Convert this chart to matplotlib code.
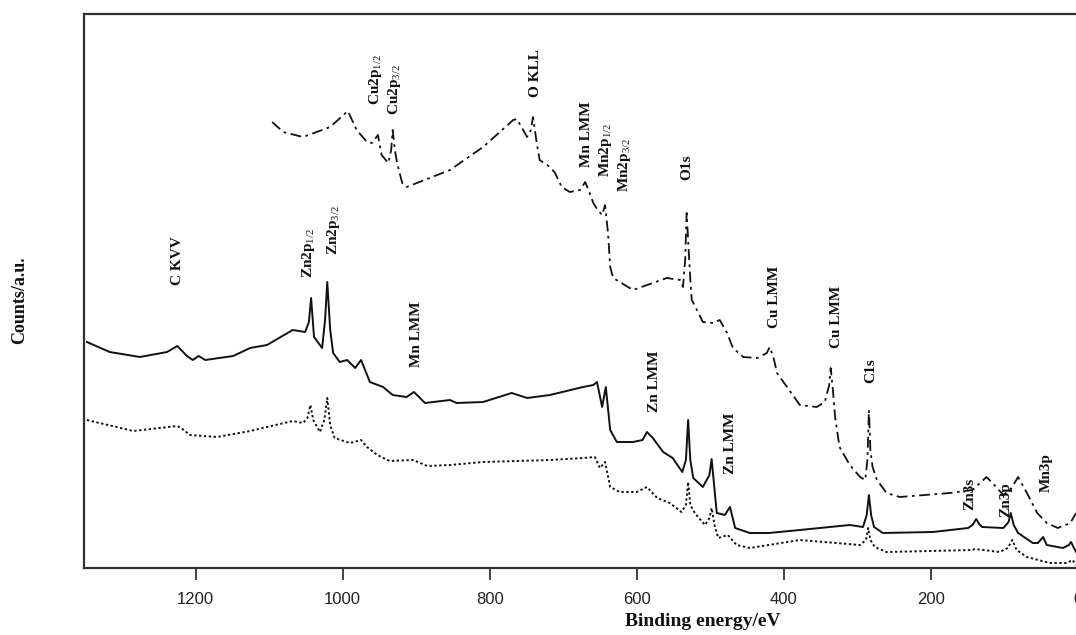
import numpy as np
import matplotlib
matplotlib.use("Agg")
import matplotlib.pyplot as plt

# binding energy (eV) / intensity (a.u.)
solid_e = [1348, 1317, 1276, 1239, 1225, 1212, 1204, 1196, 1187, 1149, 1126, 1103, 1068, 1051,
           1046, 1043, 1039, 1028, 1024, 1021, 1017, 1013, 1004, 994, 983, 975, 963, 945, 932,
           913, 903, 888, 854, 845, 809, 770, 749, 718, 673, 659, 654, 647, 642, 636, 627, 605,
           592, 586, 578, 564, 551, 538, 533, 530, 527, 523, 510, 501, 498, 494, 491, 480, 473,
           466, 446, 420, 378, 310, 292, 287, 284, 281, 277, 265, 197, 149, 143, 138, 134, 130,
           101, 94, 91, 87, 81, 61, 54, 47, 42, 20, 12, 9, 5, 2]
solid_i = [226, 216, 211, 216, 222, 212, 208, 212, 208, 212, 220, 223, 238, 236,
           246, 270, 231, 220, 248, 286, 238, 215, 206, 208, 200, 208, 186, 181, 173,
           171, 176, 165, 168, 165, 166, 175, 170, 173, 181, 183, 186, 161, 181, 138, 126, 126,
           128, 136, 130, 116, 110, 96, 108, 148, 108, 90, 81, 93, 109, 78, 55, 53, 61,
           40, 35, 35, 38, 43, 41, 53, 73, 53, 41, 35, 36, 40, 43, 49, 44, 41,
           40, 46, 55, 43, 35, 25, 25, 31, 23, 20, 23, 26, 20, 16]

dot_e = [1348, 1285, 1225, 1218, 1208, 1171, 1126, 1068, 1054, 1048, 1044, 1040, 1031, 1025,
         1021, 1017, 1011, 990, 975, 967, 953, 936, 904, 885, 854, 809, 763, 718, 673, 657,
         650, 643, 636, 623, 600, 586, 572, 555, 539, 533, 530, 527, 521, 507, 501, 498, 494,
         489, 476, 464, 446, 378, 296, 288, 285, 282, 276, 260, 143, 140, 106, 95, 89, 83,
         69, 38, 15, 7, 2]
dot_i = [148, 137, 142, 139, 133, 131, 137, 147, 145, 150, 163, 148, 136, 148,
         170, 143, 130, 125, 128, 121, 113, 107, 108, 102, 103, 106, 107, 108, 110, 111,
         100, 106, 81, 76, 76, 81, 70, 65, 56, 63, 86, 63, 55, 43, 50, 60, 43,
         30, 33, 23, 20, 28, 23, 28, 40, 28, 21, 16, 18, 19, 16, 20, 28, 18,
         11, 5, 5, 8, 3]

dash_e = [1096, 1081, 1054, 1017, 993, 981, 967, 960, 952, 947, 938, 934, 932, 929, 926, 919,
          913, 854, 809, 768, 763, 749, 744, 741, 736, 732, 718, 711, 702, 691, 677, 670, 664,
          659, 653, 647, 643, 639, 636, 632, 605, 559, 541, 537, 534, 532, 530, 527, 525, 518,
          510, 496, 487, 477, 469, 455, 436, 423, 419, 414, 409, 378, 355, 344, 338, 336, 333,
          330, 324, 310, 296, 289, 286, 284, 282, 279, 273, 260, 242, 174, 143, 124, 116, 101,
          90, 81, 69, 55, 42, 27, 10, 2]
dash_i = [446, 436, 431, 441, 457, 438, 426, 425, 433, 413, 405, 418, 438, 418, 405, 385,
          381, 398, 421, 448, 449, 431, 438, 451, 425, 408, 401, 395, 381, 376, 378, 386, 375,
          365, 358, 353, 363, 335, 301, 290, 278, 290, 288, 281, 308, 355, 328, 288, 268, 258,
          246, 245, 248, 235, 220, 211, 210, 215, 221, 211, 195, 163, 161, 166, 183, 200, 178,
          151, 121, 103, 91, 88, 108, 158, 118, 101, 88, 75, 71, 75, 78, 91, 85, 73,
          80, 91, 75, 55, 45, 40, 45, 55]

# peak labels: text, energy, baseline height
peak_text = ["C KVV", r"Zn2p$_{1/2}$", r"Zn2p$_{3/2}$", r"Cu2p$_{1/2}$", r"Cu2p$_{3/2}$",
             "O KLL", "Mn LMM", r"Mn2p$_{1/2}$", r"Mn2p$_{3/2}$", "O1s", "Mn LMM",
             "Zn LMM", "Zn LMM", "Cu LMM", "Cu LMM", "C1s", "Zn3s", "Zn3p", "Mn3p"]
peak_e = [1225, 1047, 1013, 955, 929, 737, 668, 642, 616, 532, 899,
          576, 473, 412, 328, 281, 147, 98, 42]
peak_y = [283, 290, 313, 463, 453, 471, 401, 391, 376, 388, 201,
          156, 94, 240, 220, 185, 58, 51, 76]

xticks = [1200, 1000, 800, 600, 400, 200, 0]

plt.rcParams["mathtext.fontset"] = "custom"
plt.rcParams["mathtext.rm"] = "Liberation Serif"
plt.rcParams["mathtext.it"] = "Liberation Serif"
plt.rcParams["mathtext.bf"] = "Liberation Serif:bold"

W, H = 1076, 635
fig = plt.figure(figsize=(W / 100, H / 100), dpi=100)
ax = fig.add_axes([84 / W, 67 / H, 1012 / W, 554 / H])

ink = "#111111"
ax.plot(solid_e, solid_i, color=ink, lw=1.4, solid_joinstyle="round")
ax.plot(dot_e, dot_i, color=ink, lw=1.4, linestyle=(0, (1.2, 1.3)))
ax.plot(dash_e, dash_i, color=ink, lw=1.3, linestyle=(0, (6, 2.5, 1.5, 2.5)))

for txt, e, y in zip(peak_text, peak_e, peak_y):
    ax.text(e, y, txt, rotation=90, ha="center", va="bottom",
            family="Liberation Serif", fontweight="bold", fontsize=11, color=ink)

ax.set_xlim(1352, -25)
ax.set_ylim(0, 554)
ax.set_xticks(xticks)
ax.set_xticklabels([str(t) for t in xticks], family="Liberation Sans", fontsize=12)
ax.set_yticks([])
ax.tick_params(axis="x", direction="out", length=8.5, width=1.2, pad=9, colors="#222222")
for sp in ax.spines.values():
    sp.set_linewidth(1.6)
    sp.set_color("#333333")

fig.text(703 / W, 1 - 622 / H, "Binding energy/eV", ha="center", va="center",
         family="Liberation Serif", fontweight="bold", fontsize=14, color=ink)
fig.text(20 / W, 1 - 300 / H, "Counts/a.u.", ha="center", va="center", rotation=90,
         family="Liberation Serif", fontweight="bold", fontsize=13, color=ink)

fig.savefig("out.png", dpi=100)
